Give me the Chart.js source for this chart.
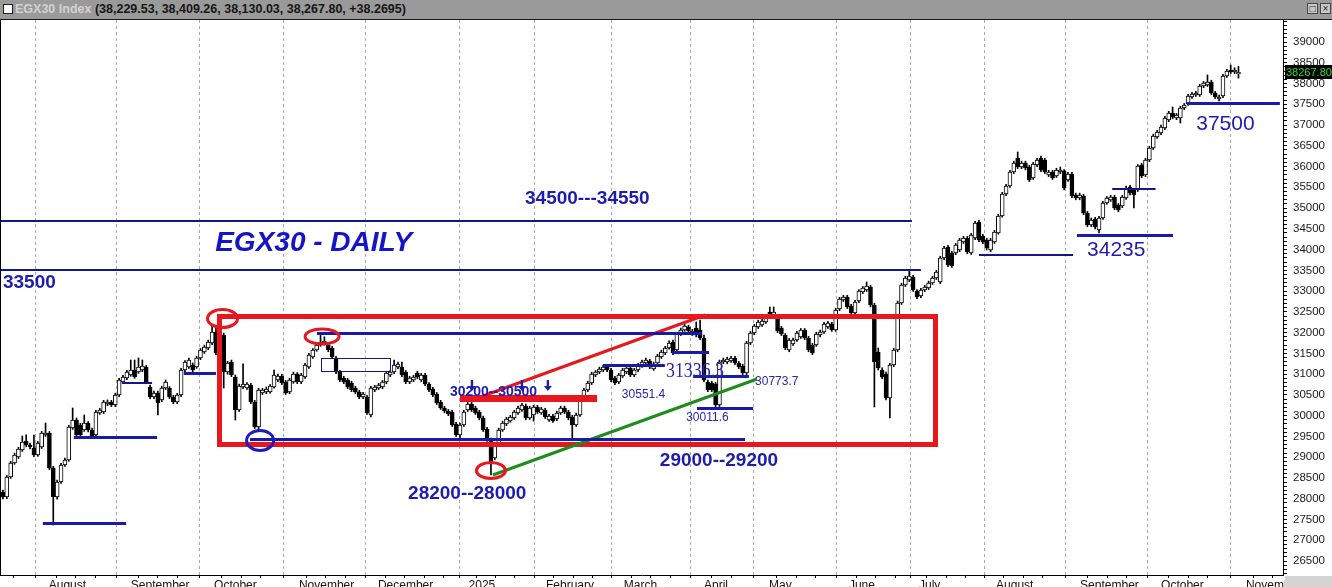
<!DOCTYPE html>
<html>
<head>
<meta charset="utf-8">
<title>EGX30 - DAILY</title>
<script src="https://cdn.jsdelivr.net/npm/chart.js@4.4.1/dist/chart.umd.min.js"></script>
<style>
  html, body { margin: 0; padding: 0; background: #ffffff; }
  body { width: 1332px; height: 587px; position: relative; overflow: hidden; font-family: "Liberation Sans", Arial, sans-serif; }
  #bar { position: absolute; left: 0; top: 0; width: 1332px; height: 20px; background: #9a9a9a; border-bottom: 1px solid #1a1a1a; box-sizing: border-box; }
  #bar .chk { position: absolute; left: 3px; top: 4px; width: 10px; height: 10px; background: #ffffff; border: 1px solid #222; box-sizing: border-box; }
  #bar .ttl { position: absolute; left: 15px; top: 1px; font-weight: bold; font-size: 12.5px; line-height: 17px; color: #161616; white-space: nowrap; }
  #bar .ttl span { color: #d2d2d2; }
  #bar .btn { position: absolute; top: 3px; width: 11px; height: 11px; background: #c8c8c8; border: 1px solid #444; box-sizing: border-box; font-size: 10px; line-height: 9px; text-align: center; color: #222; }
  #edge { position: absolute; left: 0; top: 20px; width: 1px; height: 556px; background: #000; }
  #wrap { position: absolute; left: 0; top: 20px; width: 1332px; height: 567px; }
</style>
</head>
<body>
<div id="bar">
  <div class="chk"></div>
  <div class="ttl"><span>EGX30 Index</span> (38,229.53, 38,409.26, 38,130.03, 38,267.80, +38.2695)</div>
  <div class="btn" style="left:1307px">&#9633;</div>
  <div class="btn" style="left:1320px">&#215;</div>
</div>
<div id="wrap"><canvas id="c" width="1332" height="567"></canvas></div>
<div id="edge"></div>
<script>
// Daily EGX30 candles, one entry per trading session (Jul 2024 - Oct 2025)
const opens = [
  28162, 28042, 28523, 28861, 29005, 29174, 29390, 29294, 29222, 29053,
  29246, 29535, 29583, 28740, 28042, 28403, 28812, 28933, 29704, 29896,
  29776, 29655, 29824, 29655, 29535, 30065, 30089, 30282, 30330, 30258,
  30498, 30811, 30908, 30980, 31100, 31052, 31100, 31173, 30691, 30450,
  30547, 30378, 30667, 30667, 30450, 30330, 30498, 31100, 31173, 31221,
  31173, 31390, 31534, 31630, 31751, 32016, 31703, 31943, 31052, 31293,
  30932, 30137, 30691, 30667, 30739, 30330, 29728, 30547, 30571, 30571,
  30691, 30860, 30956, 30811, 30571, 30811, 31004, 30811, 30932, 31173,
  31414, 31582, 31703, 31751, 31703, 31630, 31390, 31052, 30908, 30860,
  30787, 30667, 30571, 30450, 30450, 30017, 30619, 30667, 30691, 30811,
  30980, 31052, 31173, 31173, 31052, 30811, 30860, 31028, 30860, 30980,
  30763, 30643, 30522, 30330, 30185, 30113, 30089, 29800, 29535, 29776,
  30137, 30282, 30185, 30089, 29944, 29680, 29415, 28981, 29318, 29655,
  29800, 29872, 29944, 30065, 30137, 30234, 29944, 30017, 30210, 30065,
  30137, 29896, 29993, 29920, 30065, 30185, 30089, 29969, 29776, 30017,
  30378, 30619, 30787, 30980, 31052, 31100, 31173, 31100, 30908, 30811,
  30956, 31052, 31149, 30980, 31100, 31197, 31269, 31317, 31125, 31269,
  31414, 31510, 31630, 31775, 31582, 31968, 32064, 32136, 31968, 32112,
  32064, 31871, 30811, 30787, 30763, 30258, 31293, 31293, 31317, 31390,
  31269, 31197, 31028, 31751, 31992, 32136, 32184, 32257, 32497, 32401,
  32353, 32112, 31943, 31582, 31727, 31823, 31895, 32064, 31871, 31703,
  31703, 31943, 32016, 32136, 32208, 32064, 32570, 32786, 32859, 32642,
  32473, 32762, 32979, 33027, 33100, 32666, 31534, 31100, 31004, 30426,
  31221, 31582, 32714, 33148, 33268, 33340, 33003, 32883, 33027, 33075,
  33196, 33316, 33220, 33798, 34063, 33918, 33918, 33991, 34183, 34280,
  33918, 34280, 34665, 34328, 34232, 33991, 34183, 34400, 34810, 35339,
  35532, 35869, 36207, 35990, 36086, 35990, 35725, 36038, 36207, 36158,
  35797, 35869, 35773, 35869, 35893, 35677, 35821, 35315, 35243, 35291,
  34882, 34593, 34737, 34472, 34762, 35123, 35195, 35267, 35075, 35050,
  35243, 35508, 35436, 35436, 36038, 35797, 36158, 36447, 36712, 36809,
  36929, 37122, 37290, 37170, 37170, 37411, 37507, 37676, 37724, 37724,
  37941, 37965, 38037, 37772, 37628, 37700, 38181, 38326, 38278, 38229.53
];
const highs = [
  28210, 28560, 28900, 29100, 29240, 29511, 29540, 29340, 29530, 29380,
  29620, 29825, 29620, 28780, 28450, 28850, 28980, 29770, 30185, 29945,
  29820, 30017, 29860, 29700, 30130, 30180, 30370, 30380, 30370, 30540,
  30900, 30970, 31090, 31341, 31341, 31390, 31341, 31210, 30740, 30590,
  30590, 30710, 30860, 30700, 30490, 30540, 31140, 31330, 31390, 31270,
  31430, 31620, 31700, 31820, 32160, 32110, 31780, 31990, 31310, 31340,
  30980, 30760, 31250, 30800, 30780, 30370, 30660, 30660, 30690, 30750,
  31100, 31000, 31000, 30850, 30900, 31050, 31040, 31020, 31260, 31500,
  31620, 31750, 31992, 31900, 31740, 31670, 31430, 31090, 30950, 30900,
  30830, 30710, 30610, 30560, 30490, 30710, 30730, 30780, 30850, 31070,
  31090, 31341, 31290, 31293, 31090, 30950, 30970, 31070, 31020, 31020,
  30800, 30680, 30560, 30370, 30230, 30150, 30130, 29840, 29820, 30130,
  30426, 30320, 30230, 30130, 29990, 29720, 29460, 29310, 29700, 29870,
  29960, 30010, 30130, 30230, 30300, 30280, 30230, 30250, 30250, 30200,
  30180, 30030, 30030, 30110, 30230, 30230, 30130, 30010, 30060, 30420,
  30660, 30830, 31050, 31090, 31170, 31220, 31210, 31140, 30950, 31020,
  31140, 31190, 31190, 31140, 31260, 31340, 31390, 31360, 31290, 31480,
  31580, 31670, 31800, 31820, 32010, 32110, 32200, 32180, 32080, 32257,
  32305, 31943, 30860, 30830, 30800, 31340, 31390, 31410, 31430, 31430,
  31310, 31240, 31790, 32030, 32200, 32300, 32320, 32440, 32618, 32618,
  32400, 32150, 31980, 31860, 31870, 32030, 32100, 32100, 31910, 31740,
  32010, 32060, 32250, 32270, 32250, 32590, 32850, 32900, 32900, 32680,
  32780, 33040, 33110, 33220, 33140, 32710, 31630, 31150, 31050, 31260,
  31620, 32760, 33190, 33360, 33509, 33380, 33040, 33070, 33140, 33240,
  33360, 33500, 33840, 34080, 34100, 33960, 34150, 34270, 34320, 34320,
  34390, 34680, 34710, 34370, 34270, 34270, 34460, 34850, 35380, 35570,
  35910, 36130, 36351, 36130, 36130, 36030, 36100, 36200, 36250, 36200,
  35910, 35910, 35960, 35990, 35930, 35860, 35860, 35360, 35360, 35330,
  34920, 34760, 34780, 34800, 35160, 35280, 35310, 35310, 35110, 35310,
  35530, 35550, 35470, 36050, 36080, 36200, 36490, 36780, 36870, 37000,
  37210, 37330, 37435, 37280, 37450, 37520, 37740, 37790, 37810, 37980,
  38050, 38206, 38080, 37810, 37720, 38220, 38340, 38446, 38380, 38409.26
];
const lows = [
  27995, 28000, 28490, 28830, 28970, 29140, 29250, 29200, 29010, 29020,
  29210, 29500, 28700, 27367, 27990, 28370, 28780, 28900, 29670, 29500,
  29490, 29620, 29610, 29450, 29500, 30030, 30050, 30240, 30220, 30220,
  30460, 30780, 30870, 30950, 30900, 31020, 31060, 30780, 30410, 30410,
  30017, 30340, 30630, 30410, 30290, 30290, 30460, 31060, 31140, 31060,
  31140, 31350, 31500, 31590, 31710, 31470, 31490, 30667, 31000, 30940,
  29896, 30100, 30650, 30630, 30290, 29690, 29631, 30510, 30530, 30540,
  30660, 30820, 30750, 30510, 30530, 30780, 30770, 30770, 30900, 31140,
  31380, 31550, 31670, 31700, 31540, 31380, 31010, 30820, 30770, 30650,
  30580, 30530, 30410, 30410, 30030, 29969, 30580, 30630, 30650, 30770,
  30940, 31010, 31130, 30940, 30770, 30770, 30820, 30890, 30820, 30720,
  30580, 30460, 30270, 30150, 30070, 30000, 29740, 29500, 29463, 29740,
  30100, 30100, 30030, 29900, 29620, 29380, 28572, 28940, 29280, 29620,
  29760, 29840, 29910, 30030, 30100, 29900, 29910, 29870, 30050, 30030,
  29930, 29860, 29840, 29880, 30030, 30050, 29900, 29463, 29740, 29980,
  30340, 30580, 30750, 30940, 31010, 31060, 31060, 30820, 30750, 30770,
  30920, 31010, 30940, 30940, 31060, 31160, 31230, 31130, 31090, 31230,
  31380, 31470, 31600, 31470, 31550, 31930, 32030, 32000, 31930, 31900,
  31830, 30820, 30580, 30580, 30185, 30220, 31250, 31250, 31280, 31230,
  31130, 30990, 30990, 31710, 31950, 32100, 32150, 32220, 32390, 32360,
  32000, 31930, 31590, 31540, 31690, 31790, 31860, 31830, 31540, 31470,
  31670, 31900, 31980, 32100, 32030, 32030, 32530, 32750, 32580, 32430,
  32430, 32720, 32940, 32990, 32620, 30210, 31100, 30890, 30380, 29944,
  31180, 31540, 32680, 33110, 33230, 32990, 32820, 32840, 32990, 33040,
  33160, 33280, 33180, 33760, 33590, 33570, 33880, 33950, 34150, 33900,
  33880, 34240, 34190, 34140, 33990, 33950, 34150, 34370, 34780, 35300,
  35500, 35830, 35950, 35950, 35920, 35640, 35690, 36000, 35880, 35830,
  35760, 35690, 35740, 35830, 35440, 35640, 35250, 35200, 35200, 34840,
  34550, 34550, 34500, 34400, 34730, 35090, 35160, 34960, 34910, 35010,
  35210, 35320, 35002, 35400, 35730, 35760, 36120, 36410, 36680, 36770,
  36890, 37080, 37150, 37130, 37049, 37370, 37470, 37640, 37690, 37690,
  37900, 37930, 37730, 37640, 37579, 37660, 38150, 38240, 38240, 38130.03
];
const closes = [
  28042, 28523, 28861, 29053, 29198, 29366, 29294, 29246, 29053, 29342,
  29583, 29583, 28740, 28042, 28403, 28812, 28933, 29728, 29896, 29535,
  29535, 29824, 29655, 29487, 30089, 30137, 30330, 30330, 30258, 30498,
  30860, 30932, 31052, 31100, 30932, 31173, 31197, 30811, 30450, 30547,
  30306, 30667, 30811, 30450, 30330, 30498, 31100, 31293, 31341, 31100,
  31390, 31582, 31654, 31775, 32016, 31510, 31534, 31052, 31269, 30980,
  30137, 30715, 30763, 30763, 30330, 29728, 30619, 30619, 30643, 30715,
  30980, 30956, 30787, 30547, 30860, 31004, 30811, 30980, 31221, 31462,
  31582, 31703, 31775, 31799, 31582, 31414, 31052, 30860, 30811, 30691,
  30619, 30571, 30450, 30522, 30065, 30667, 30691, 30739, 30811, 31028,
  31052, 31221, 31245, 30980, 30811, 30908, 30932, 30932, 30980, 30763,
  30619, 30498, 30306, 30185, 30113, 30041, 29776, 29535, 29776, 30089,
  30282, 30137, 30065, 29944, 29655, 29415, 28885, 29270, 29655, 29824,
  29920, 29969, 30089, 30185, 30258, 29944, 30185, 30210, 30089, 30161,
  29969, 29993, 29872, 30065, 30185, 30089, 29944, 29776, 30017, 30378,
  30619, 30787, 31004, 31052, 31125, 31173, 31100, 30860, 30787, 30980,
  31100, 31149, 30980, 31100, 31221, 31293, 31341, 31173, 31245, 31438,
  31534, 31630, 31751, 31510, 31968, 32064, 32160, 32040, 32040, 31943,
  31871, 30860, 30619, 30619, 30258, 31293, 31341, 31365, 31390, 31269,
  31173, 31028, 31751, 31992, 32160, 32257, 32281, 32401, 32425, 32497,
  32040, 31968, 31630, 31823, 31823, 31992, 32064, 31871, 31582, 31510,
  31968, 32016, 32208, 32232, 32064, 32546, 32811, 32859, 32618, 32473,
  32738, 33003, 33075, 33124, 32666, 31293, 31149, 30932, 30426, 31221,
  31582, 32714, 33148, 33316, 33364, 33027, 32859, 33027, 33100, 33196,
  33316, 33461, 33798, 34039, 33629, 33605, 34111, 34232, 34280, 33943,
  34352, 34641, 34232, 34183, 34039, 34232, 34424, 34810, 35339, 35532,
  35869, 36086, 35990, 36086, 35966, 35677, 36062, 36158, 35917, 35869,
  35869, 35725, 35917, 35917, 35484, 35821, 35291, 35243, 35315, 34882,
  34593, 34713, 34545, 34762, 35123, 35243, 35267, 35002, 34954, 35267,
  35484, 35364, 35315, 36014, 35773, 36158, 36447, 36736, 36833, 36953,
  37170, 37290, 37194, 37242, 37411, 37483, 37700, 37748, 37772, 37941,
  38013, 38037, 37772, 37676, 37676, 38181, 38302, 38278, 38326, 38267.80
];

// Month boundaries on the session axis and their captions
const monthTicks = [11.3, 32.5, 54.0, 75.9, 96.3, 119.7, 139.7, 159.8, 180.5, 197.3, 217.9, 236.0, 255.9, 277.6, 298.5, 320.4];
const monthLabels = ['August', 'September', 'October', 'November', 'December', '2025', 'February', 'March', 'April', 'May', 'June', 'July', 'August', 'September', 'October', 'November'];
// Price captions on the right-hand ruler
const priceLabels = [26500, 27000, 27500, 28000, 28500, 29000, 29500, 30000, 30500, 31000, 31500, 32000, 32500, 33000, 33500, 34000, 34500, 35000, 35500, 36000, 36500, 37000, 37500, 38000, 38500, 39000];

// Technical drawings: [fromSession, toSession, level]
const heavyLevels = [
  [10.3, 31.8, 27415],
  [18.3, 39.8, 29487],
  [46.7, 55.0, 31028],
  [63.8, 191.6, 29427],
  [81.1, 180.5, 31992],
  [154.9, 170.9, 31221],
  [172.8, 182.3, 31522],
  [178.2, 192.6, 30944],
  [179.2, 193.7, 30197],
  [277.3, 302.1, 34352],
  [305.7, 329.7, 37531]
];
const lightLevels = [
  [30.7, 38.5, 30787],
  [-0.5, 234.7, 34689],
  [-0.5, 237.0, 33509],
  [252.0, 276.3, 33870],
  [286.4, 297.6, 35460]
];
const rangeBox = [55.9, 240.7, 32389, 29318];     // [fromSession, toSession, top, bottom]
const pauseBox = [82.1, 99.9, 31390, 31077];
const targetBand = [118.0, 153.4, 30414];         // [fromSession, toSession, level]
const upperTrend = [123.2, 30450, 181.3, 32425];  // [session, price, session, price]
const lowerTrend = [126.5, 28572, 194.7, 30884];
const redRings = [[56.7, 32341], [82.4, 31907], [126.0, 28680]];
const blueRings = [[66.4, 29403]];

// Captions: [session, price, text]
const headline = [54.8, 34159, 'EGX30 - DAILY'];
const boldNotes = [
  [134.8, 35231, '34500---34550'],
  [0.0, 33196, '33500'],
  [169.6, 28909, '29000--29200'],
  [104.6, 28114, '28200--28000']
];
const bandNote = [115.4, 30570, '30200--30500'];
const bandArrows = [121.1, 134.0, 140.7];
const bandArrowLevel = 30715;
const smallNotes = [
  [159.8, 30498, '30551.4'],
  [194.2, 30823, '30773.7'],
  [176.4, 29956, '30011.6']
];
const serifNote = [171.2, 31076, '31336.3'];
const plainNotes = [
  [279.9, 33991, '34235'],
  [308.1, 37025, '37500']
];

const SANS = '"Liberation Sans", Arial, sans-serif';
const RED = '#e8161d';
const BLUE = '#1a1aa8';
const NAVY = '#15158a';

// Axis tick objects: month boundaries carry a caption, weekly marks are blank
function buildSessionTicks() {
  const out = [];
  const bounds = [-4.7].concat(monthTicks);
  for (let m = 0; m < bounds.length; m++) {
    if (m > 0) out.push({ value: bounds[m], text: monthLabels[m - 1], month: true });
    const next = m + 1 < bounds.length ? bounds[m + 1] : 330.5;
    for (let w = bounds[m] + 5; w < next - 2; w += 5) {
      if (w > -0.5) out.push({ value: w, text: '', month: false });
    }
  }
  return out;
}
function buildRuler() {
  const out = [];
  for (let v = 26200; v <= 39500; v += 100) out.push({ value: v });
  return out;
}

// Solid down-arrow marker
function downArrow(ctx, x, y) {
  ctx.beginPath();
  ctx.moveTo(x - 1.2, y - 6);
  ctx.lineTo(x + 1.2, y - 6);
  ctx.lineTo(x + 1.2, y);
  ctx.lineTo(x + 4, y);
  ctx.lineTo(x, y + 5);
  ctx.lineTo(x - 4, y);
  ctx.lineTo(x - 1.2, y);
  ctx.closePath();
  ctx.fill();
}

const drawings = {
  id: 'drawings',
  afterDatasetsDraw(chart) {
    const { ctx, chartArea: a } = chart;
    const xs = chart.scales.x, ys = chart.scales.y;
    const px = v => xs.getPixelForValue(v);
    const py = v => ys.getPixelForValue(v);
    const snap = (p, w) => Math.round(p) + (w % 2 ? 0.5 : 0);
    ctx.save();
    ctx.beginPath();
    ctx.rect(a.left, a.top, a.right - a.left, a.bottom - a.top);
    ctx.clip();

    // consolidation range
    ctx.strokeStyle = RED;
    ctx.lineWidth = 5;
    ctx.strokeRect(snap(px(rangeBox[0]), 5), snap(py(rangeBox[2]), 5),
      Math.round(px(rangeBox[1]) - px(rangeBox[0])), Math.round(py(rangeBox[3]) - py(rangeBox[2])));

    // target band
    ctx.lineWidth = 7;
    ctx.beginPath();
    ctx.moveTo(px(targetBand[0]), snap(py(targetBand[2]), 7));
    ctx.lineTo(px(targetBand[1]), snap(py(targetBand[2]), 7));
    ctx.stroke();

    // channel lines
    ctx.lineWidth = 3;
    ctx.beginPath();
    ctx.moveTo(px(upperTrend[0]), py(upperTrend[1]));
    ctx.lineTo(px(upperTrend[2]), py(upperTrend[3]));
    ctx.stroke();
    ctx.strokeStyle = '#1f8c1f';
    ctx.beginPath();
    ctx.moveTo(px(lowerTrend[0]), py(lowerTrend[1]));
    ctx.lineTo(px(lowerTrend[2]), py(lowerTrend[3]));
    ctx.stroke();

    // horizontal levels
    const seg = (l, w, col) => {
      const y = snap(py(l[2]), w);
      ctx.strokeStyle = col;
      ctx.lineWidth = w;
      ctx.beginPath();
      ctx.moveTo(px(l[0]), y);
      ctx.lineTo(px(l[1]), y);
      ctx.stroke();
    };
    lightLevels.forEach(l => seg(l, 2, NAVY));
    heavyLevels.forEach(l => seg(l, 3, BLUE));

    ctx.strokeStyle = NAVY;
    ctx.lineWidth = 1;
    ctx.strokeRect(snap(px(pauseBox[0]), 1), snap(py(pauseBox[2]), 1),
      Math.round(px(pauseBox[1]) - px(pauseBox[0])), Math.round(py(pauseBox[3]) - py(pauseBox[2])));

    // rings around turning points
    const ring = (r, col, rx, ry) => {
      ctx.strokeStyle = col;
      ctx.lineWidth = 3;
      ctx.beginPath();
      ctx.ellipse(px(r[0]), py(r[1]), rx, ry, 0, 0, Math.PI * 2);
      ctx.stroke();
    };
    ring(redRings[0], RED, 15, 9);
    ring(redRings[1], RED, 17, 7.5);
    ring(redRings[2], RED, 14.5, 8);
    blueRings.forEach(r => ring(r, '#1c1cc0', 13.5, 10));

    // captions
    ctx.textBaseline = 'middle';
    ctx.textAlign = 'left';
    ctx.fillStyle = '#1414c8';
    ctx.font = 'italic bold 28px ' + SANS;
    ctx.fillText(headline[2], px(headline[0]), py(headline[1]));

    ctx.fillStyle = '#1c1cb0';
    ctx.font = 'bold 19px ' + SANS;
    boldNotes.forEach(n => ctx.fillText(n[2], px(n[0]), py(n[1])));

    ctx.font = 'bold 14px ' + SANS;
    ctx.fillText(bandNote[2], px(bandNote[0]), py(bandNote[1]));
    bandArrows.forEach(s => downArrow(ctx, px(s), py(bandArrowLevel)));

    ctx.fillStyle = '#2626b4';
    ctx.font = '12px ' + SANS;
    smallNotes.forEach(n => ctx.fillText(n[2], px(n[0]), py(n[1])));

    ctx.save();
    ctx.font = '21px "Liberation Serif", "Times New Roman", serif';
    ctx.translate(px(serifNote[0]), py(serifNote[1]));
    ctx.scale(0.85, 1);
    ctx.fillText(serifNote[2], 0, 0);
    ctx.restore();

    ctx.fillStyle = '#1c1cb0';
    ctx.font = '21px ' + SANS;
    plainNotes.forEach(n => ctx.fillText(n[2], px(n[0]), py(n[1])));
    ctx.restore();
  },
  afterDraw(chart) {
    const { ctx, chartArea: a } = chart;
    const ys = chart.scales.y;
    const last = closes[closes.length - 1];
    const y = Math.round(ys.getPixelForValue(last));
    ctx.save();
    ctx.fillStyle = '#000000';
    ctx.fillRect(a.right + 2, y - 7, chart.width - a.right - 2, 14);
    ctx.fillStyle = '#36d936';
    ctx.font = '11px ' + SANS;
    ctx.textBaseline = 'middle';
    ctx.textAlign = 'left';
    ctx.fillText(last.toFixed(2), a.right + 3, y + 0.5);
    ctx.fillStyle = '#d4d4d4';
    ctx.fillRect(a.right + 2, a.bottom + 1, chart.width - a.right - 2, chart.height - a.bottom - 1);
    ctx.restore();
  }
};

const bodyColors = opens.map((o, i) => (closes[i] >= o ? '#ffffff' : '#000000'));

new Chart(document.getElementById('c'), {
  type: 'bar',
  data: {
    datasets: [
      {
        label: 'body',
        data: opens.map((o, i) => ({ x: i, y: [o, closes[i]] })),
        backgroundColor: bodyColors,
        borderColor: '#000000',
        borderWidth: 1,
        borderSkipped: false,
        barThickness: 4,
        grouped: false
      },
      {
        label: 'range',
        data: lows.map((l, i) => ({ x: i, y: [l, highs[i]] })),
        backgroundColor: '#000000',
        borderWidth: 0,
        barThickness: 1,
        grouped: false
      }
    ]
  },
  options: {
    responsive: false,
    animation: false,
    devicePixelRatio: 1,
    layout: { padding: { left: 1, right: 0, top: 0, bottom: 0 } },
    plugins: { legend: { display: false }, tooltip: { enabled: false } },
    scales: {
      x: {
        type: 'linear',
        min: -0.5,
        max: 330.5,
        bounds: 'data',
        offset: false,
        grid: {
          color: c => (c.tick && c.tick.month ? '#a9a9a9' : 'rgba(0,0,0,0)'),
          lineWidth: 1,
          drawOnChartArea: true,
          drawTicks: true,
          tickLength: 3,
          tickColor: '#000000',
          tickWidth: 1
        },
        border: { display: true, color: '#000000', width: 1, dash: [3, 3] },
        ticks: {
          autoSkip: false,
          maxRotation: 0,
          minRotation: 0,
          align: 'start',
          padding: 0,
          labelOffset: 2,
          color: '#111111',
          font: { family: SANS, size: 12 },
          callback: (v, i, t) => (t[i] && t[i].text) || ''
        },
        afterBuildTicks: s => { s.ticks = buildSessionTicks(); },
        afterFit: s => { s.height = 12; s.paddingLeft = 0; s.paddingRight = 0; }
      },
      y: {
        type: 'linear',
        position: 'right',
        min: 26163,
        max: 39530,
        grid: { drawOnChartArea: false, drawTicks: true, tickLength: 4, tickColor: '#000000' },
        border: { display: true, color: '#000000', width: 1 },
        ticks: {
          autoSkip: false,
          padding: 6,
          color: '#1a1a1a',
          font: { family: SANS, size: 11.5 },
          callback: v => (priceLabels.includes(v) ? String(v) : '')
        },
        afterBuildTicks: s => { s.ticks = buildRuler(); },
        afterFit: s => { s.width = 49; s.paddingTop = 0; s.paddingBottom = 0; }
      }
    }
  },
  plugins: [drawings]
});
</script>
</body>
</html>
